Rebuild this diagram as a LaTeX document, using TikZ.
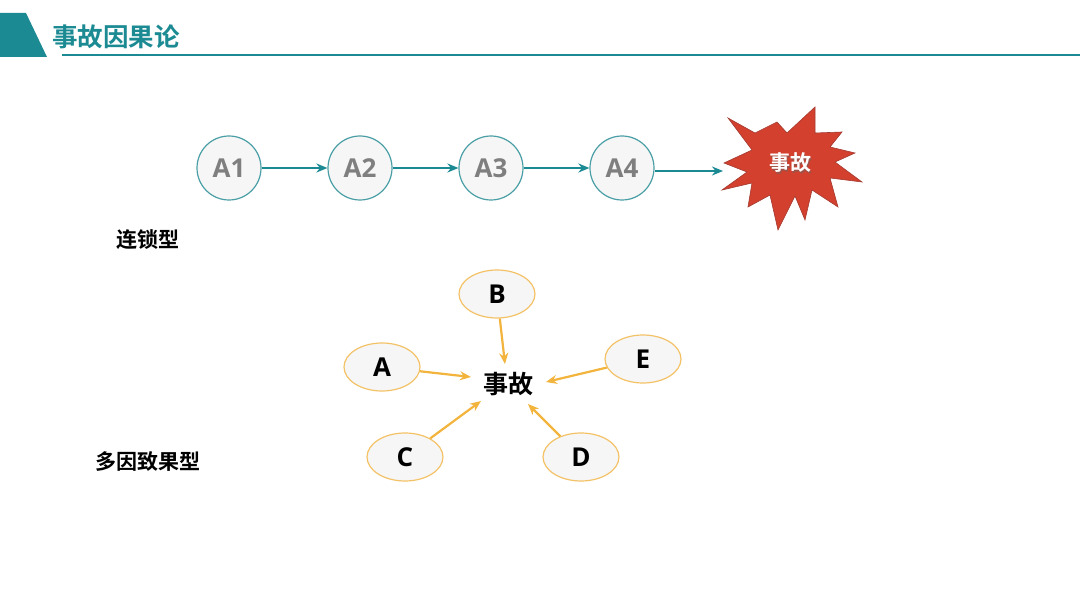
\documentclass[tikz,border=0pt]{standalone}
\usepackage{fontspec}
\newfontfamily\cjk{Noto Sans CJK SC}[BoldFont={* Bold}]
\newfontfamily\lat{Open Sans}
\usetikzlibrary{arrows.meta,shapes.geometric}
\definecolor{teal1}{HTML}{1C8A93}
\definecolor{tealc}{HTML}{4A9FA6}
\definecolor{cfill}{HTML}{F6F6F6}
\definecolor{greytx}{HTML}{7F7F7F}
\definecolor{starred}{HTML}{D4402E}
\definecolor{starline}{HTML}{A23A30}
\definecolor{orng}{HTML}{F2B43C}
\definecolor{oline}{HTML}{F4C266}
\tikzset{
  chainnode/.style={circle,draw=tealc,fill=cfill,line width=1.2pt,minimum size=64pt,inner sep=0pt,font=\lat\bfseries\fontsize{26}{26}\selectfont,text=greytx},
  chainarrow/.style={draw=teal1,line width=2.2pt,-{Stealth[length=11pt,width=9pt]}},
  causenode/.style={ellipse,draw=oline,fill=cfill,line width=1.2pt,minimum width=76pt,minimum height=48pt,inner sep=0pt,font=\lat\bfseries\fontsize{26}{26}\selectfont},
  causearrow/.style={draw=orng,line width=2.2pt,-{Stealth[length=11pt,width=9pt]}},
  label/.style={font=\cjk\bfseries\fontsize{21}{21}\selectfont,inner sep=0pt}
}
\begin{document}
\begin{tikzpicture}[x=1pt,y=-1pt]
\useasboundingbox (0,0) rectangle (1080,607);
% header
\fill[teal1] (0,13) -- (26,13) -- (47,57) -- (0,57) -- cycle;
\fill[teal1] (62,54) rectangle (1080,56.5);
\node[anchor=west,inner sep=0pt,text=teal1,font=\cjk\bfseries\fontsize{25.5}{25.5}\selectfont] (title) at (52,37) {事故因果论};
% chain
\node[chainnode] (a1) at (229,168) {A1};
\node[chainnode] (a2) at (360,168) {A2};
\node[chainnode] (a3) at (491,168) {A3};
\node[chainnode] (a4) at (622,168) {A4};
\fill[starred,draw=starline,line width=0.6pt]
  (728,118) -- (755,133) -- (777,122) -- (787,133) -- (815,107) -- (815,133)
  -- (842,132) -- (830,147) -- (855,153) -- (835,162) -- (862,182) -- (830,178)
  -- (838,207) -- (812,190) -- (805,220) -- (795,196) -- (778,230) -- (770,195)
  -- (748,207) -- (752,183) -- (722,190) -- (747,172) -- (724,163) -- (752,150) -- cycle;
\node[inner sep=0pt,font=\cjk\bfseries\fontsize{21}{21}\selectfont,text=black!60,opacity=0.5] at (791,164.5) {事故};
\node[inner sep=0pt,font=\cjk\bfseries\fontsize{21}{21}\selectfont,text=white] (acc1) at (790,163) {事故};
\coordinate (starL) at (723,171);
\draw[chainarrow] (a1) -- (a2);
\draw[chainarrow] (a2) -- (a3);
\draw[chainarrow] (a3) -- (a4);
\draw[chainarrow] (a4.east |- starL) -- (starL);
\node[label] (lian) at (148,240) {连锁型};
% multi-cause
\node[inner sep=0pt,font=\cjk\bfseries\fontsize{25}{25}\selectfont] (acc2) at (508,384) {事故};
\node[causenode] (B) at (497,294) {B};
\node[causenode] (A) at (382,367) {A};
\node[causenode] (E) at (643,359) {E};
\node[causenode] (C) at (405,457) {C};
\node[causenode] (D) at (581,457) {D};
\coordinate (tB) at (505,364);
\coordinate (tA) at (471,377);
\coordinate (tE) at (546,382);
\coordinate (tC) at (481,401);
\coordinate (tD) at (528,404);
\draw[causearrow] (B) -- (tB);
\draw[causearrow] (A) -- (tA);
\draw[causearrow] (E) -- (tE);
\draw[causearrow] (C) -- (tC);
\draw[causearrow] (D) -- (tD);
\node[label] (duo) at (148,462) {多因致果型};
\end{tikzpicture}
\end{document}
